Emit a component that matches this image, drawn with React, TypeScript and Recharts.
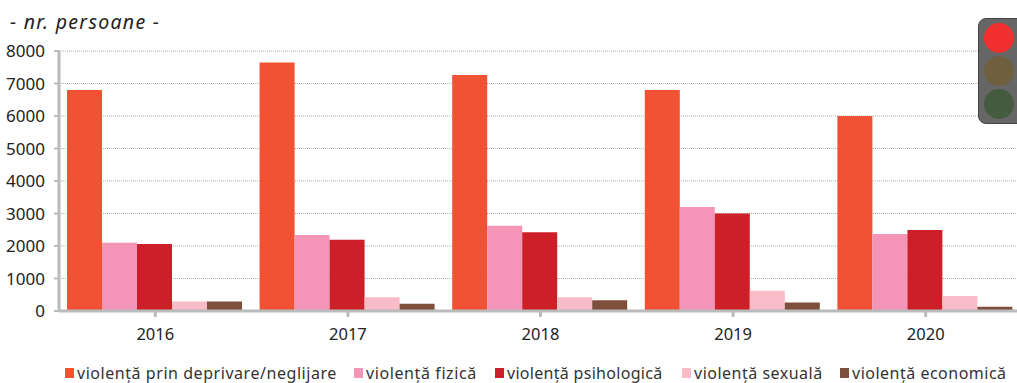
import React from 'react';
import { BarChart, Bar, XAxis, YAxis, CartesianGrid, Legend } from 'recharts';

const years = ['2016', '2017', '2018', '2019', '2020'];
const deprivare = [6800, 7650, 7260, 6800, 6000];
const fizica = [2100, 2340, 2620, 3200, 2370];
const psihologica = [2060, 2190, 2420, 3000, 2490];
const sexuala = [290, 420, 420, 620, 460];
const economica = [290, 220, 330, 260, 130];
const yTicks = [0, 1000, 2000, 3000, 4000, 5000, 6000, 7000, 8000];

const rows = years.map((year, i) => ({
  year,
  deprivare: deprivare[i],
  fizica: fizica[i],
  psihologica: psihologica[i],
  sexuala: sexuala[i],
  economica: economica[i],
}));

const seriesList = [
  { key: 'deprivare', name: 'violență prin deprivare/neglijare', color: '#F15233', lx: 65, ls: 0.55 },
  { key: 'fizica', name: 'violență fizică', color: '#F495B8', lx: 354, ls: 0.6 },
  { key: 'psihologica', name: 'violență psihologică', color: '#CC1F27', lx: 495, ls: 0.3 },
  { key: 'sexuala', name: 'violență sexuală', color: '#F9BBC8', lx: 682, ls: 0.5 },
  { key: 'economica', name: 'violență economică', color: '#7F4F3D', lx: 840, ls: 0.5 },
];

const FONT = '"Noto Sans", Tahoma, sans-serif';
const AXIS = '#B8BCBC';

const legendContent = () => (
  <div style={{ position: 'relative', width: 1017, height: 24 }}>
    {seriesList.map((s) => (
      <div key={s.key} style={{ position: 'absolute', left: s.lx, top: 5, display: 'flex', alignItems: 'center', whiteSpace: 'nowrap', fontFamily: FONT, fontSize: 16, letterSpacing: s.ls, color: '#333', lineHeight: '18px', height: 18 }}>
        <span style={{ width: 9, height: 10, background: s.color, marginRight: 3, display: 'inline-block' }} />
        {s.name}
      </div>
    ))}
  </div>
);

export default function App() {
  return (
    <div style={{ position: 'fixed', left: 0, top: 0, width: 1017, height: 383, overflow: 'hidden', background: '#fff' }}>
      <BarChart
        width={1040}
        height={383}
        data={rows}
        margin={{ top: 51, right: 18, bottom: 8, left: 0 }}
        barCategoryGap={8}
        barGap={0}
      >
        <CartesianGrid horizontal vertical={false} stroke="#ABABAB" strokeDasharray="1 1" />
        <XAxis
          dataKey="year"
          height={40}
          tickSize={6}
          tickMargin={11}
          axisLine={{ stroke: AXIS, strokeWidth: 3 }}
          tickLine={{ stroke: AXIS, strokeWidth: 3 }}
          tick={{ fontFamily: FONT, fontSize: 16.5, fill: '#222' }}
          interval={0}
        />
        <YAxis
          width={59}
          domain={[0, 8000]}
          ticks={yTicks}
          interval={0}
          tickSize={5}
          tickMargin={9}
          axisLine={{ stroke: AXIS, strokeWidth: 3 }}
          tickLine={{ stroke: AXIS, strokeWidth: 2 }}
          tick={{ fontFamily: FONT, fontSize: 17, fill: '#222' }}
        />
        <Legend verticalAlign="bottom" content={legendContent} wrapperStyle={{ left: 0, bottom: 0, width: 1017, height: 24 }} />
        {seriesList.map((s) => (
          <Bar key={s.key} dataKey={s.key} name={s.name} fill={s.color} isAnimationActive={false} />
        ))}
      </BarChart>
      <div style={{ position: 'absolute', left: 10, top: 9, fontFamily: FONT, fontStyle: 'italic', fontSize: 19.5, letterSpacing: 1.3, color: '#222', lineHeight: '26px', whiteSpace: 'nowrap' }}>
        - nr. persoane -
      </div>
      <div style={{ position: 'absolute', left: 978, top: 18, width: 60, height: 106, borderRadius: 8, background: '#666', border: '1px solid #444', boxSizing: 'border-box' }} />
      {[['#F23030', 38], ['#6F5F3E', 71], ['#455B40', 104]].map(([c, y]) => (
        <div key={String(c)} style={{ position: 'absolute', left: 983.5, top: (y as number) - 15, width: 30, height: 30, borderRadius: '50%', background: c as string }} />
      ))}
    </div>
  );
}
